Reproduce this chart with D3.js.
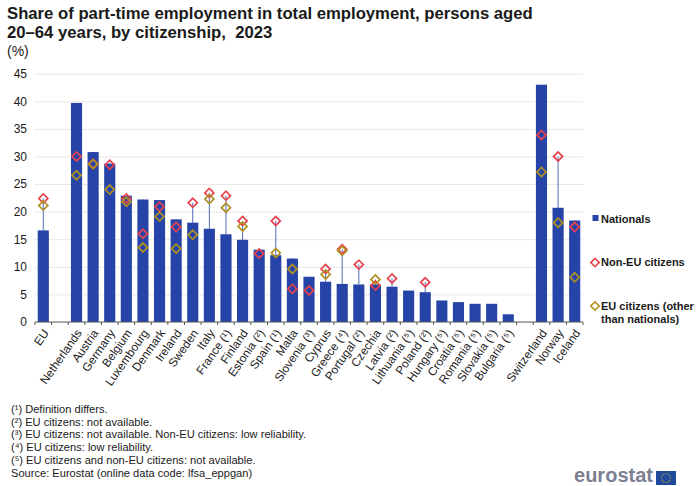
<!DOCTYPE html>
<html><head><meta charset="utf-8">
<script src="https://cdnjs.cloudflare.com/ajax/libs/d3/7.8.5/d3.min.js"></script>
<style>html,body{margin:0;padding:0;background:#fff}svg{display:block}text{font-family:"Liberation Sans",Arial,sans-serif;fill:#1a1a1a;white-space:pre}</style>
</head><body><div id="c"></div>
<script>
const categories=["EU","","Netherlands","Austria","Germany","Belgium","Luxembourg","Denmark","Ireland","Sweden","Italy","France (¹)","Finland","Estonia (²)","Spain (¹)","Malta","Slovenia (³)","Cyprus","Greece (⁴)","Portugal (²)","Czechia","Latvia (²)","Lithuania (⁵)","Poland (²)","Hungary (⁵)","Croatia (⁵)","Romania (⁵)","Slovakia (⁵)","Bulgaria (⁵)"," ","Switzerland","Norway","Iceland"];
const nationals=[16.6,null,39.7,30.8,28.7,22.9,22.2,22.1,18.6,18.0,16.9,15.9,14.9,13.1,12.1,11.5,8.2,7.3,6.9,6.8,6.8,6.4,5.7,5.4,3.9,3.6,3.3,3.3,1.4,null,43.0,20.7,18.4];
const nonEU=[22.4,null,30.0,28.7,28.5,22.4,16.0,20.9,17.2,21.6,23.4,22.9,18.3,12.4,18.3,6.0,5.7,9.6,13.2,10.4,6.6,7.9,null,7.2,null,null,null,null,null,null,33.9,30.0,17.2];
const euCit=[21.1,null,26.6,28.6,24.0,21.8,13.5,19.1,13.3,15.8,22.3,20.7,17.3,null,12.5,9.6,null,8.6,12.9,null,7.7,null,null,null,null,null,null,null,null,null,27.2,18.0,8.1];
const yTicks=[0,5,10,15,20,25,30,35,40,45];
const titleLines=["Share of part-time employment in total employment, persons aged","20–64 years, by citizenship,  2023"];
const unitLabel="(%)";
const notes=["(¹) Definition differs.","(²) EU citizens: not available.","(³) EU citizens: not available. Non-EU citizens: low reliability.","(⁴) EU citizens: low reliability.","(⁵) EU citizens and non-EU citizens: not available.","Source: Eurostat (online data code: lfsa_eppgan)"];
const BLUE="#2644a7",RED="#e8414e",GOLD="#b09120";

const svg=d3.select("#c").append("svg").attr("width",700).attr("height",486);
const x=d3.scaleBand().domain(categories).range([35,583]).paddingInner(0.33).paddingOuter(0.165);
const y=d3.scaleLinear().domain([0,45]).range([322,73.7]);

svg.append("g").selectAll("text").data(titleLines).join("text")
 .attr("x",7).attr("y",(d,i)=>19+i*18.5).attr("font-size",16.7).attr("font-weight","bold").text(d=>d);
svg.append("text").attr("x",7).attr("y",56).attr("font-size",14).text(unitLabel);

svg.append("g").selectAll("line").data(yTicks.filter(d=>d>0)).join("line")
 .attr("x1",35).attr("x2",583).attr("y1",d=>y(d)+.5).attr("y2",d=>y(d)+.5)
 .attr("stroke","#d9d9d9").attr("stroke-width",1).attr("stroke-dasharray","1 0.6");

const yAxis=svg.append("g").attr("transform","translate(35,0)").call(d3.axisLeft(y).tickValues(yTicks).tickSize(0).tickPadding(8));
yAxis.select(".domain").remove();
yAxis.selectAll("text").attr("font-size",12).style("font-family",'"Liberation Sans",Arial,sans-serif').attr("fill","#333");

const idx=categories.map((c,i)=>i);
svg.append("g").selectAll("rect").data(idx.filter(i=>nationals[i]!=null)).join("rect")
 .attr("x",i=>x(categories[i])).attr("width",x.bandwidth())
 .attr("y",i=>y(nationals[i])).attr("height",i=>y(0)-y(nationals[i])).attr("fill",BLUE);

svg.append("g").selectAll("line").data(idx.filter(i=>nonEU[i]!=null||euCit[i]!=null)).join("line")
 .attr("x1",i=>x(categories[i])+x.bandwidth()/2).attr("x2",i=>x(categories[i])+x.bandwidth()/2)
 .attr("y1",i=>y(d3.min([nationals[i],nonEU[i],euCit[i]])))
 .attr("y2",i=>y(d3.max([nationals[i],nonEU[i],euCit[i]])))
 .attr("stroke",BLUE).attr("stroke-width",1).attr("stroke-opacity",.8);

function markers(vals,col){
 svg.append("g").selectAll("rect").data(idx.filter(i=>vals[i]!=null)).join("rect")
  .attr("x",-3.2).attr("y",-3.2).attr("width",6.4).attr("height",6.4)
  .attr("transform",i=>`translate(${x(categories[i])+x.bandwidth()/2},${y(vals[i])}) rotate(45)`)
  .attr("fill","none").attr("stroke",col).attr("stroke-width",1.7);
}
markers(nonEU,RED);markers(euCit,GOLD);

const ax=svg.append("g").attr("transform","translate(0,322)");
ax.append("line").attr("x1",35).attr("x2",583).attr("stroke","#555").attr("stroke-width",1);
const step=x.step();
ax.selectAll("line.t").data(d3.range(categories.length+1)).join("line").attr("class","t")
 .attr("x1",i=>35+i*step).attr("x2",i=>35+i*step).attr("y1",0).attr("y2",3).attr("stroke","#555");
ax.selectAll("text").data(categories.filter(c=>c.trim())).join("text")
 .attr("transform",c=>`translate(${x(c)+x.bandwidth()/2+6},11) rotate(-55)`)
 .attr("text-anchor","end").attr("font-size",11.8).attr("fill","#333").text(c=>c);

const lg=svg.append("g");
const lx=595;
lg.append("rect").attr("x",lx-2.5).attr("y",215).attr("width",6).attr("height",6).attr("fill",BLUE);
[[262.5,RED],[306,GOLD]].forEach(([cy,c])=>lg.append("rect").attr("x",-3).attr("y",-3).attr("width",6).attr("height",6)
 .attr("transform",`translate(${lx},${cy}) rotate(45)`).attr("fill","none").attr("stroke",c).attr("stroke-width",1.6));
[["Nationals",222.5],["Non-EU citizens",266],["EU citizens (other",310],["than nationals)",323]].forEach(([t,yy])=>
 lg.append("text").attr("x",601).attr("y",yy).attr("font-size",11).attr("font-weight","bold").text(t));

svg.append("g").selectAll("text").data(notes).join("text")
 .attr("x",11).attr("y",(d,i)=>413+i*12.7).attr("font-size",11.1).attr("fill","#333").text(d=>d);

svg.append("text").attr("x",574).attr("y",481.8).attr("font-size",19.5).attr("font-weight","bold")
 .attr("textLength",79).attr("lengthAdjust","spacingAndGlyphs")
 .style("fill","#7b8092").text("eurostat");
svg.append("rect").attr("x",656).attr("y",471).attr("width",20).attr("height",14).attr("fill","#1f4a9c");
svg.append("g").selectAll("circle").data(d3.range(12)).join("circle")
 .attr("cx",i=>666+4.5*Math.cos(i*Math.PI/6)).attr("cy",i=>478+4.5*Math.sin(i*Math.PI/6)).attr("r",.6).attr("fill","#e6c822");
</script></body></html>
